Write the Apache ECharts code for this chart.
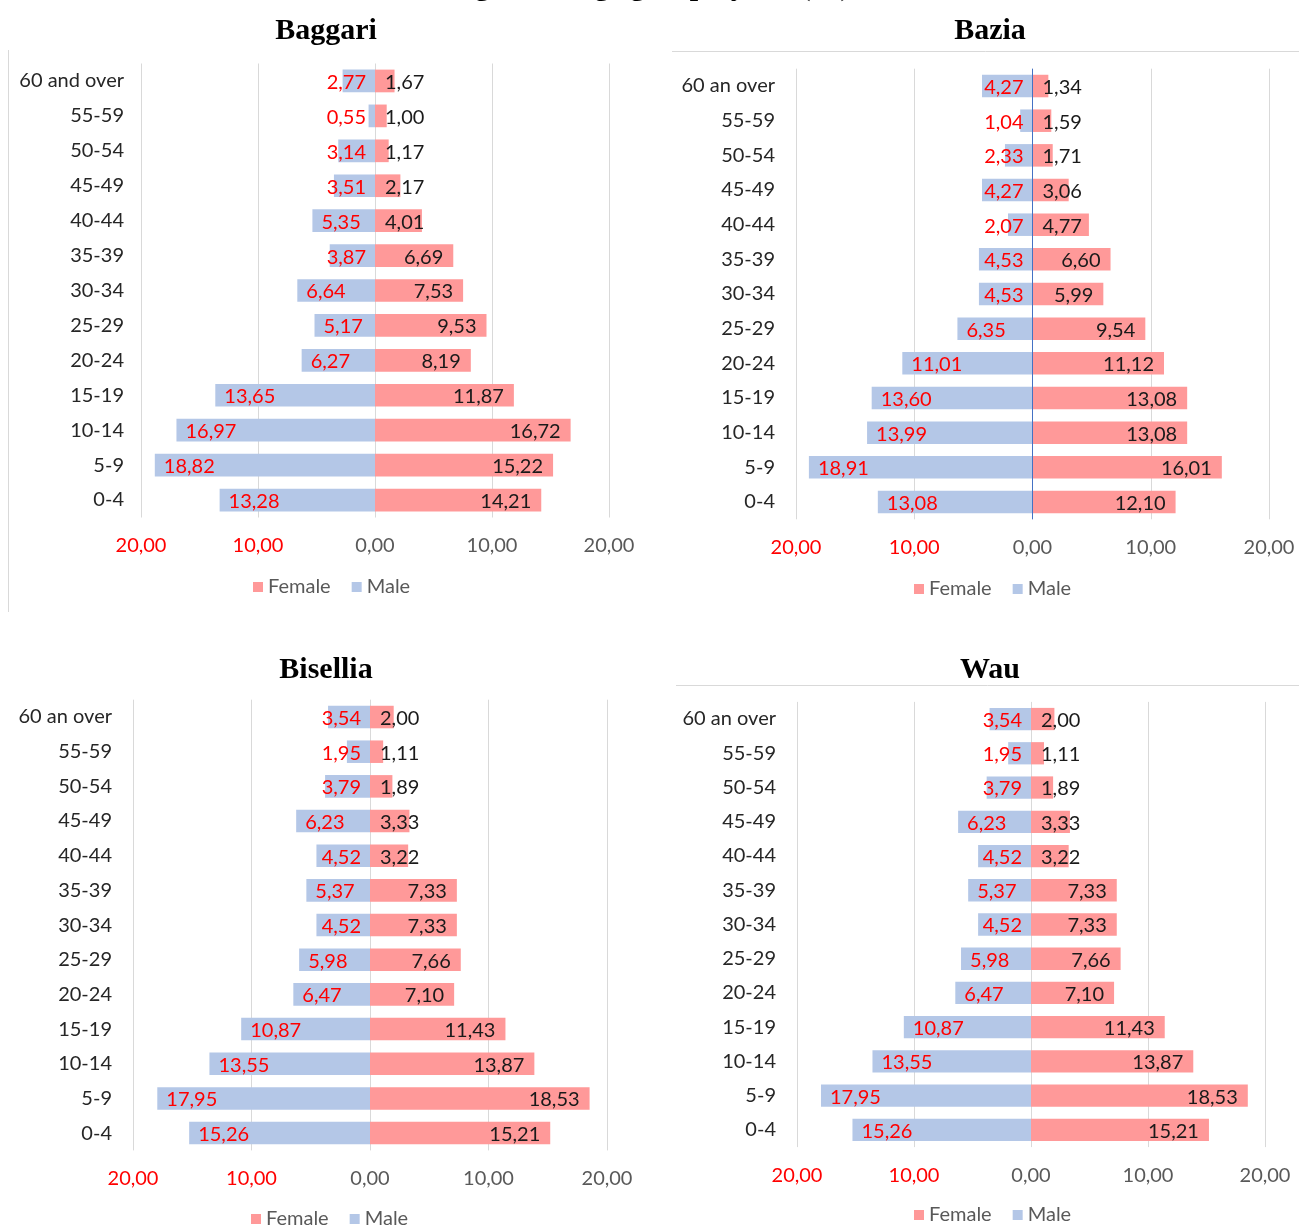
<!DOCTYPE html>
<html>
<head>
<meta charset="utf-8">
<title>Age group by sex (%)</title>
<script src="https://cdn.jsdelivr.net/npm/echarts@6/dist/echarts.min.js"></script>
<style>
  html, body { margin: 0; padding: 0; background: #ffffff; }
  #chart { width: 1299px; height: 1226px; }
</style>
</head>
<body>
<div id="chart"></div>
<script>
// Age groups, listed from the oldest (top row) to the youngest (bottom row)
const ageGroupsBaggari = ['60 and over', '55-59', '50-54', '45-49', '40-44', '35-39', '30-34',
  '25-29', '20-24', '15-19', '10-14', '5-9', '0-4'];
const ageGroups = ['60 an over', '55-59', '50-54', '45-49', '40-44', '35-39', '30-34',
  '25-29', '20-24', '15-19', '10-14', '5-9', '0-4'];

// Share of each sex by age group (%)
const baggariMale   = [2.77, 0.55, 3.14, 3.51, 5.35, 3.87, 6.64, 5.17, 6.27, 13.65, 16.97, 18.82, 13.28];
const baggariFemale = [1.67, 1.00, 1.17, 2.17, 4.01, 6.69, 7.53, 9.53, 8.19, 11.87, 16.72, 15.22, 14.21];

const baziaMale   = [4.27, 1.04, 2.33, 4.27, 2.07, 4.53, 4.53, 6.35, 11.01, 13.60, 13.99, 18.91, 13.08];
const baziaFemale = [1.34, 1.59, 1.71, 3.06, 4.77, 6.60, 5.99, 9.54, 11.12, 13.08, 13.08, 16.01, 12.10];

const biselliaMale   = [3.54, 1.95, 3.79, 6.23, 4.52, 5.37, 4.52, 5.98, 6.47, 10.87, 13.55, 17.95, 15.26];
const biselliaFemale = [2.00, 1.11, 1.89, 3.33, 3.22, 7.33, 7.33, 7.66, 7.10, 11.43, 13.87, 18.53, 15.21];

const wauMale   = [3.54, 1.95, 3.79, 6.23, 4.52, 5.37, 4.52, 5.98, 6.47, 10.87, 13.55, 17.95, 15.26];
const wauFemale = [2.00, 1.11, 1.89, 3.33, 3.22, 7.33, 7.33, 7.66, 7.10, 11.43, 13.87, 18.53, 15.21];

const axisTicks = { min: -20, max: 20, interval: 10 };

const COLOR_MALE = '#B4C7E7';
const COLOR_FEMALE = '#FF9999';
const GRID_LINE = '#D9D9D9';
const FONT = 'Lato, "Open Sans", sans-serif';
const TITLE_FONT = '"Liberation Serif", "DejaVu Serif", serif';

const fmt = v => Math.abs(v).toFixed(2).replace('.', ',');

// One pyramid per place: grid box, title centre, legend anchor, category label gap
const panels = [
  { name: 'Baggari',  cats: ageGroupsBaggari, male: baggariMale,  female: baggariFemale,
    grid: { left: 141, top: 63.5, width: 468, height: 454 },   titleX: 326, titleY: 16,
    legend: { left: 253, top: 577 },  catGap: 17, zeroLine: false },
  { name: 'Bazia',    cats: ageGroups, male: baziaMale,    female: baziaFemale,
    grid: { left: 796, top: 68.7, width: 473, height: 450.6 }, titleX: 990, titleY: 16,
    legend: { left: 914, top: 579 },  catGap: 21, zeroLine: true },
  { name: 'Bisellia', cats: ageGroups, male: biselliaMale, female: biselliaFemale,
    grid: { left: 133, top: 699.7, width: 474, height: 450.7 }, titleX: 326, titleY: 655,
    legend: { left: 251, top: 1209 }, catGap: 21, zeroLine: false },
  { name: 'Wau',      cats: ageGroups, male: wauMale,      female: wauFemale,
    grid: { left: 797, top: 701.9, width: 468, height: 445.2 }, titleX: 990, titleY: 655,
    legend: { left: 914, top: 1205 }, catGap: 21, zeroLine: false }
];

const grids = [], xAxes = [], yAxes = [], series = [], titles = [], legends = [];

panels.forEach((p, i) => {
  grids.push(Object.assign({ containLabel: false }, p.grid));

  titles.push({
    text: p.name, left: p.titleX, top: p.titleY, textAlign: 'center', padding: 0,
    textStyle: { fontFamily: TITLE_FONT, fontWeight: 'bold', fontSize: 30, color: '#000000' }
  });

  legends.push({
    data: ['Female', 'Male'], left: p.legend.left, top: p.legend.top, padding: 0,
    orient: 'horizontal', icon: 'rect', itemWidth: 10, itemHeight: 10, itemGap: 21,
    selectedMode: false,
    textStyle: { fontFamily: FONT, fontSize: 20, color: '#595959' }
  });

  xAxes.push({
    type: 'value', gridIndex: i,
    min: axisTicks.min, max: axisTicks.max, interval: axisTicks.interval,
    axisLine: { show: false }, axisTick: { show: false },
    splitLine: { show: true, lineStyle: { color: GRID_LINE, width: 1 } },
    axisLabel: {
      margin: 18, fontFamily: FONT, fontSize: 20,
      formatter: fmt,
      color: v => (v < 0 ? '#FF0000' : '#595959')
    }
  });

  yAxes.push({
    type: 'category', gridIndex: i, data: p.cats, inverse: true,
    axisLine: { show: false }, axisTick: { show: false }, splitLine: { show: false },
    axisLabel: { margin: p.catGap, fontFamily: FONT, fontSize: 20, color: '#262626' }
  });

  // Male bars grow to the left; labels sit just inside the outer end,
  // but never closer to the centre line than the label gap allows.
  const male = {
    name: 'Male', type: 'bar', xAxisIndex: i, yAxisIndex: i,
    data: p.male.map(v => -v), barWidth: '65%', barGap: '-100%',
    itemStyle: { color: COLOR_MALE },
    label: { show: true, formatter: d => fmt(d.value), fontFamily: FONT, fontSize: 20, color: '#FF0000' },
    labelLayout: prm => {
      const r = prm.rect, lw = prm.labelRect.width;
      const left = Math.min(r.x, r.x + r.width), right = Math.max(r.x, r.x + r.width);
      return { x: Math.min(left + 9, right - 9 - lw), y: r.y + r.height / 2 + 1.5,
               align: 'left', verticalAlign: 'middle' };
    }
  };
  if (p.zeroLine) {
    male.markLine = {
      silent: true, symbol: ['none', 'none'], label: { show: false },
      lineStyle: { color: '#4472C4', width: 1, type: 'solid' },
      data: [{ xAxis: 0 }]
    };
  }
  series.push(male);

  series.push({
    name: 'Female', type: 'bar', xAxisIndex: i, yAxisIndex: i,
    data: p.female, barWidth: '65%', barGap: '-100%',
    itemStyle: { color: COLOR_FEMALE },
    label: { show: true, formatter: d => fmt(d.value), fontFamily: FONT, fontSize: 20, color: '#1a1a1a' },
    labelLayout: prm => {
      const r = prm.rect, lw = prm.labelRect.width;
      const left = Math.min(r.x, r.x + r.width), right = Math.max(r.x, r.x + r.width);
      return { x: Math.max(right - 10 - lw, left + 10), y: r.y + r.height / 2 + 1.5,
               align: 'left', verticalAlign: 'middle' };
    }
  });
});

const chart = echarts.init(document.getElementById('chart'), null, { renderer: 'canvas' });
chart.setOption({
  animation: false,
  backgroundColor: '#ffffff',
  title: titles,
  legend: legends,
  grid: grids,
  xAxis: xAxes,
  yAxis: yAxes,
  series: series,
  graphic: [
    // Figure heading along the top edge of the page
    { type: 'text', left: 'center', x: 0, y: -28, silent: true,
      style: { text: 'Figure 3: Age group by sex (%)', fontFamily: TITLE_FONT, fontWeight: 'bold',
               fontSize: 30, fill: '#000000' } },
    // Chart frame edges
    { type: 'line', silent: true, shape: { x1: 8.5, y1: 50, x2: 8.5, y2: 612 },
      style: { stroke: GRID_LINE, lineWidth: 1 } },
    { type: 'line', silent: true, shape: { x1: 672, y1: 51.5, x2: 1299, y2: 51.5 },
      style: { stroke: GRID_LINE, lineWidth: 1 } },
    { type: 'line', silent: true, shape: { x1: 676, y1: 685.5, x2: 1299, y2: 685.5 },
      style: { stroke: GRID_LINE, lineWidth: 1 } }
  ]
});
</script>
</body>
</html>
